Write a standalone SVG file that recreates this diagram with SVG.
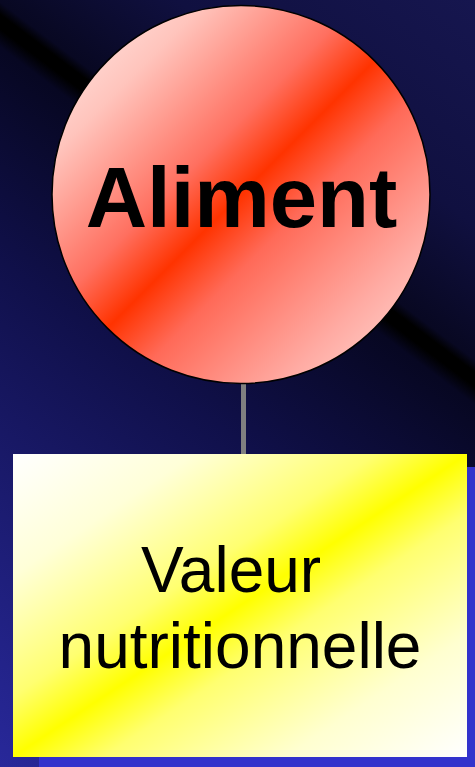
<svg xmlns="http://www.w3.org/2000/svg" width="475" height="767" viewBox="0 0 475 767">
<defs>
<linearGradient id="bg" gradientUnits="userSpaceOnUse" x1="182.7" y1="-220.4" x2="-358.1" y2="497.2">
<stop offset="0" stop-color="#16164f"/>
<stop offset="0.2" stop-color="#101040"/>
<stop offset="0.32" stop-color="#080822"/>
<stop offset="0.331" stop-color="#000000"/>
<stop offset="0.344" stop-color="#000000"/>
<stop offset="0.36" stop-color="#070722"/>
<stop offset="0.55" stop-color="#10104a"/>
<stop offset="1" stop-color="#28289a"/>
</linearGradient>
<linearGradient id="red" x1="0" y1="0" x2="1" y2="1">
<stop offset="0" stop-color="#fff0ee"/>
<stop offset="0.2" stop-color="#ffc4bc"/>
<stop offset="0.4" stop-color="#ff7060"/>
<stop offset="0.5" stop-color="#ff3300"/>
<stop offset="0.6" stop-color="#ff6a58"/>
<stop offset="0.8" stop-color="#ffaaa2"/>
<stop offset="1" stop-color="#ffe4e0"/>
</linearGradient>
<linearGradient id="yel" x1="0" y1="0" x2="1" y2="1">
<stop offset="0" stop-color="#ffffff"/>
<stop offset="0.2" stop-color="#ffffd8"/>
<stop offset="0.4" stop-color="#ffff70"/>
<stop offset="0.5" stop-color="#ffff00"/>
<stop offset="0.6" stop-color="#ffff70"/>
<stop offset="0.8" stop-color="#ffffd0"/>
<stop offset="1" stop-color="#ffffff"/>
</linearGradient>
</defs>
<style>
.lbl{font-family:"Liberation Sans",Arial,sans-serif;fill:#000;text-anchor:middle}
</style>
<rect x="0" y="0" width="475" height="767" fill="url(#bg)"/>
<g id="connectors">
<line x1="243.5" y1="383" x2="243.5" y2="455" stroke="#808080" stroke-width="5"/>
</g>
<g id="node-aliment">
<circle cx="241" cy="194.5" r="189" fill="url(#red)" stroke="#000" stroke-width="1.5"/>
<text class="lbl" x="241.5" y="227" font-size="85" font-weight="bold">Aliment</text>
</g>
<g id="node-valeur">
<rect x="39" y="467" width="454" height="303" fill="#3333cc"/>
<rect x="13" y="454" width="454" height="303" fill="url(#yel)"/>
<text class="lbl" x="231" y="592" font-size="64">Valeur</text>
<text class="lbl" x="240" y="668" font-size="64">nutritionnelle</text>
</g>
</svg>
